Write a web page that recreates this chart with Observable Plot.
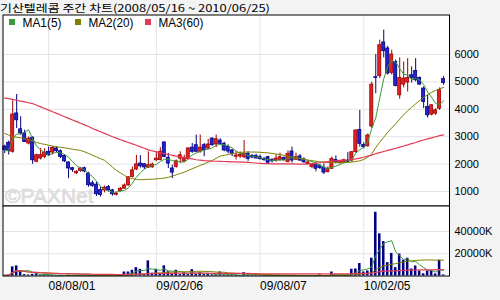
<!DOCTYPE html>
<html><head><meta charset="utf-8">
<script src="https://cdn.jsdelivr.net/npm/d3@7"></script>
<script src="https://cdn.jsdelivr.net/npm/@observablehq/plot@0.6"></script>
<style>
html,body{margin:0;padding:0;background:#f3f3f3;}
#wrap{position:relative;width:500px;height:300px;overflow:hidden;background:#f3f3f3;}
#wrap svg{position:absolute;left:0;}
#title{position:absolute;left:0;top:0;font-family:"Noto Sans CJK KR","Noto Sans",sans-serif;font-size:13px;line-height:normal;white-space:nowrap;transform-origin:0 0;color:#000;}
</style></head><body><div id="wrap"></div>
<script>
const title = "기산텔레콤 주간 차트(2008/05/16 ~ 2010/06/25)";
const seriesNames = ["MA1(5)", "MA2(20)", "MA3(60)"];
const seriesColors = ["#3a9a3a", "#808000", "#e23a55"];
const watermark = "©PAXNet";

const tickWeeks = [11, 38, 64, 90];
const tickLabels = ["08/08/01", "09/02/06", "09/08/07", "10/02/05"];
const priceTicks = [1000, 2000, 3000, 4000, 5000, 6000];
const volumeTicks = [20000, 40000];

const open = [2640,2780,2450,3850,3270,3120,2750,2960,2085,2200,
  2265,2450,2420,2570,2470,2300,2060,1850,1660,1750,
  1850,1650,1300,1250,1050,1040,1160,1040,880,1010,
  1100,1220,1530,1800,2020,2000,1870,1880,2140,2145,
  2790,2230,1840,1900,2200,2090,2180,2600,2690,2450,
  2690,2570,2930,2715,2860,2740,2620,2500,2270,2280,
  2250,2375,2300,2300,2260,2190,2250,2150,2120,2150,
  2220,2070,2460,2160,2280,2170,2000,1900,2010,1940,
  1865,1705,1830,2150,2040,2040,2130,2130,2435,3250,
  2700,2650,3370,5170,5210,6440,6220,5330,5730,4510,
  4900,4975,5245,5400,5146,4756,4085,3805,3840,4024,5100];
const high = [2690,2840,4310,4540,3730,3240,2990,3000,2360,2570,
  2560,2620,2640,2640,2520,2350,2080,1880,1760,1870,
  1890,1700,1380,1330,1150,1200,1220,1080,980,1150,
  1280,1540,1890,2320,2310,2020,2450,2040,2450,2600,
  2815,2390,1960,2150,2450,2325,2600,2750,3060,3060,
  2750,2900,2960,3060,2930,2800,2700,2540,2470,2450,
  2860,2450,2350,2360,2330,2240,2290,2200,2340,2400,
  2260,2480,2620,2400,2350,2230,2110,2010,2060,1980,
  2010,1900,2260,2300,2150,2180,2420,2460,3250,3960,
  2780,3100,4990,6000,6525,6890,6300,6160,5800,5880,
  5730,5850,5550,5850,5180,4820,4510,4170,4020,4780,5200];
const low = [2390,2330,2400,3300,3050,2790,2700,1990,2050,2150,
  2200,2290,2330,2420,2200,2060,1470,1700,1620,1700,
  1680,1160,1150,820,800,950,980,830,840,980,
  1080,1200,1500,1770,1850,1800,1840,1850,2090,2120,
  2230,1840,1475,1850,2020,2080,2150,2390,2420,2400,
  2270,2520,2650,2600,2680,2450,2380,2280,2150,2200,
  2200,2100,2200,2180,2150,2100,2000,2040,2070,2100,
  2100,2050,2040,2140,2100,2020,1960,1830,1720,1800,
  1620,1680,1800,2020,2000,2000,2050,2060,2400,2620,
  2560,2620,3300,4570,5120,5880,5250,5250,4820,4365,
  4780,4630,4960,5000,4880,4024,3680,3760,3780,3960,4880];
const close = [2510,2470,3810,3600,3120,2810,2930,2140,2325,2325,
  2420,2325,2590,2470,2265,2100,1840,1790,1720,1840,
  1730,1230,1200,900,870,1140,1040,900,920,1100,
  1220,1520,1770,1990,1920,1880,1960,1985,2200,2450,
  2265,2020,1690,2105,2325,2230,2570,2450,2450,2600,
  2510,2715,2690,2910,2740,2500,2460,2375,2310,2330,
  2375,2190,2240,2210,2180,2150,2050,2100,2200,2250,
  2150,2375,2130,2250,2130,2070,2060,1980,1830,1860,
  1690,1830,2190,2070,2110,2140,2080,2435,3226,2740,
  2617,3044,4900,5146,6340,6120,5305,6000,4850,5146,
  5120,5146,5146,5060,4900,4268,3780,4146,3963,4695,4963];
const volume = [600,700,8200,9100,4500,1200,900,1500,2100,800,
  1500,600,500,400,500,400,800,300,300,300,
  300,500,400,600,500,300,300,400,300,900,
  3600,3600,5100,7500,6000,1500,13600,2500,6000,1500,
  9100,3800,1500,5100,1200,3000,1200,5700,1500,3000,
  1200,1500,900,1000,3600,800,600,700,500,500,
  3000,800,600,500,400,400,500,300,400,400,
  300,500,400,300,300,300,300,300,300,1000,
  400,400,3600,600,500,400,600,6000,6300,11200,
  3600,4500,16000,57300,37900,30900,12000,20300,7500,19700,
  14200,16000,6300,9000,4500,2000,4500,4500,1800,14200,1000];
const ma20 = [3120,3060,3000,2980,2960,2930,2890,2840,2790,2750,
  2720,2690,2660,2630,2615,2595,2570,2545,2520,2500,
  2450,2390,2325,2265,2200,2140,2020,1890,1770,1680,
  1590,1500,1470,1440,1430,1435,1445,1450,1460,1475,
  1490,1520,1560,1610,1660,1705,1770,1830,1890,1950,
  2010,2070,2130,2210,2290,2320,2350,2380,2400,2420,
  2440,2440,2440,2440,2430,2420,2410,2390,2370,2345,
  2320,2290,2260,2230,2200,2170,2150,2125,2105,2085,
  2070,2060,2050,2048,2050,2055,2060,2075,2095,2120,
  2170,2250,2375,2600,2800,2980,3160,3320,3470,3640,
  3800,3950,4080,4200,4320,4430,4540,4620,4690,4750,4800];
const ma60 = [4420,4390,4360,4330,4300,4270,4240,4210,4150,4090,
  4030,3970,3910,3850,3790,3730,3670,3610,3550,3490,
  3430,3370,3300,3240,3180,3120,3060,3000,2950,2890,
  2840,2790,2740,2690,2630,2580,2520,2480,2450,2410,
  2380,2350,2320,2290,2260,2240,2210,2190,2160,2145,
  2130,2120,2110,2105,2100,2095,2090,2085,2080,2075,
  2070,2060,2050,2040,2030,2020,2015,2010,2010,2010,
  2010,2005,2005,2000,2000,2000,2005,2015,2030,2050,
  2070,2090,2110,2120,2130,2140,2150,2170,2190,2220,
  2250,2290,2330,2380,2420,2460,2500,2540,2580,2620,
  2660,2700,2750,2790,2840,2880,2920,2960,3000,3040,3070];

const rows = d3.range(close.length).map(i => ({
  i, o: open[i], h: high[i], l: low[i], c: close[i], v: volume[i],
  m20: ma20[i], m60: ma60[i], up: close[i] >= open[i]
}));

const font = '"Liberation Sans", Arial, sans-serif';
const xDomain = [-0.43, 111.48];
const priceDomain = [471, 7442];
const volumeDomain = [0, 62920];
const gridColor = "#e4e4e4";
const upBody = "#e02222", upEdge = "#a00000", downBody = "#2424cc", downEdge = "#000080";

const wrap = document.getElementById("wrap");

const pricePlot = Plot.plot({
  width: 500, height: 193,
  marginTop: 1.5, marginBottom: 0.5, marginLeft: 2.5, marginRight: 51,
  style: {background: "transparent", fontFamily: font, fontSize: "11px", color: "#000", overflow: "visible"},
  x: {type: "linear", domain: xDomain, axis: null},
  y: {type: "linear", domain: priceDomain, axis: "right", ticks: priceTicks, tickSize: 0, tickPadding: 5, tickFormat: d => String(d), label: null},
  marks: [
    Plot.frame({fill: "white", stroke: "none"}),
    Plot.ruleX(tickWeeks, {stroke: gridColor}),
    Plot.ruleY(priceTicks, {stroke: gridColor}),
    Plot.text([watermark], {frameAnchor: "bottom-left", dx: 2, dy: -3, fontSize: 21, fill: "#dedede", stroke: "#d0d0d0", strokeWidth: 0.6, textAnchor: "start", lineAnchor: "bottom"}),
    Plot.ruleX(rows, {x: "i", y1: "l", y2: "h", stroke: d => d.up ? upEdge : downEdge}),
    Plot.rect(rows, {x1: d => d.i - 0.38, x2: d => d.i + 0.38, y1: "o", y2: "c", fill: d => d.up ? upBody : downBody, stroke: d => d.up ? upEdge : downEdge, strokeWidth: 0.8}),
    Plot.lineY(rows, Plot.windowY({k: 5, anchor: "end", reduce: "mean"}, {x: "i", y: "c", stroke: seriesColors[0], strokeWidth: 1})),
    Plot.lineY(rows, {x: "i", y: "m20", stroke: seriesColors[1], strokeWidth: 1}),
    Plot.lineY(rows, {x: "i", y: "m60", stroke: seriesColors[2], strokeWidth: 1.2}),
    Plot.frame({stroke: "#000"})
  ]
});
pricePlot.style.top = "13px";
wrap.appendChild(pricePlot);

const volumePlot = Plot.plot({
  width: 500, height: 96,
  marginTop: 1.5, marginBottom: 24.5, marginLeft: 2.5, marginRight: 51,
  style: {background: "transparent", fontFamily: font, fontSize: "11px", color: "#000", overflow: "visible"},
  x: {type: "linear", domain: xDomain, axis: null},
  y: {type: "linear", domain: volumeDomain, axis: "right", ticks: volumeTicks, tickSize: 0, tickPadding: 5, tickFormat: d => d + "K", label: null},
  marks: [
    Plot.frame({fill: "white", stroke: "none"}),
    Plot.ruleX(tickWeeks, {stroke: gridColor}),
    Plot.ruleY(volumeTicks, {stroke: gridColor}),
    Plot.rect(rows, {x1: d => d.i - 0.32, x2: d => d.i + 0.32, y1: 0, y2: "v", fill: "#000080"}),
    Plot.lineY(rows, Plot.windowY({k: 5, anchor: "end", reduce: "mean"}, {x: "i", y: "v", stroke: seriesColors[0], strokeWidth: 1})),
    Plot.lineY(rows, Plot.windowY({k: 20, anchor: "end", reduce: "mean"}, {x: "i", y: "v", stroke: seriesColors[1], strokeWidth: 1})),
    Plot.lineY(rows, Plot.windowY({k: 60, anchor: "end", reduce: "mean"}, {x: "i", y: "v", stroke: seriesColors[2], strokeWidth: 1.2})),
    Plot.frame({stroke: "#000"}),
    Plot.text(tickWeeks, {x: d => d, frameAnchor: "bottom", text: (d, i) => tickLabels[i], textAnchor: "start", lineAnchor: "top", dy: 5, fontSize: 12, fill: "#000"})
  ]
});
volumePlot.style.top = "204px";
wrap.appendChild(volumePlot);

// title (HTML, fitted to the reference width and squeezed vertically so its box stays inside the page)
const t = document.createElement("div");
t.id = "title";
t.textContent = title;
wrap.appendChild(t);
const tw = t.getBoundingClientRect().width;
t.style.transform = `scale(${270 / tw}, 0.8)`;

// legend overlay
const over = d3.select(wrap).append("svg")
  .attr("width", 500).attr("height", 40)
  .style("top", "0px").style("pointer-events", "none");
const legendX = [9, 75, 145];
const legendW = [39, 45, 45];
seriesNames.forEach((name, k) => {
  over.append("rect").attr("x", legendX[k]).attr("y", 19).attr("width", 6).attr("height", 6).attr("fill", seriesColors[k]);
  over.append("text").attr("x", legendX[k] + 13.5).attr("y", 26.5)
    .attr("font-family", font).attr("font-size", 13)
    .attr("textLength", legendW[k]).attr("lengthAdjust", "spacingAndGlyphs")
    .attr("fill", "#000").text(name);
});
</script>
</body></html>
